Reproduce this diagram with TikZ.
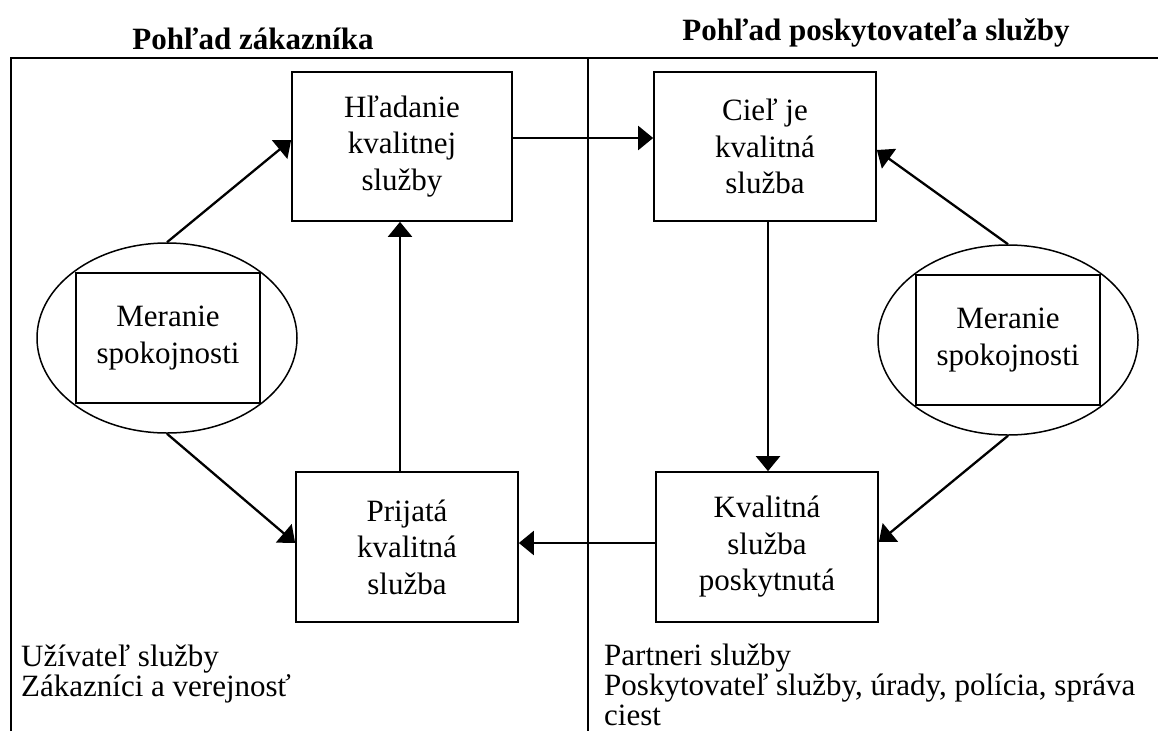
\documentclass[tikz,border=0pt]{standalone}
\usepackage{fontspec}
\setmainfont{Liberation Serif}
\usetikzlibrary{arrows.meta,shapes.geometric}
\newcommand\bxfont{\fontsize{31}{36.5}\selectfont}
\newcommand\ttlfont{\bfseries\fontsize{31}{36}\selectfont}
\newcommand\btfont{\fontsize{31}{30}\selectfont}
\begin{document}
\begin{tikzpicture}[x=1pt,y=-1pt,
 box/.style={draw,line width=1.7pt,minimum width=220pt,minimum height=149pt,align=center,font=\bxfont,inner sep=0pt},
 inbox/.style={draw,line width=1.7pt,minimum width=184pt,minimum height=130pt,align=center,font=\bxfont,inner sep=0pt},
 oval/.style={draw,ellipse,line width=1.5pt,minimum width=260pt,minimum height=190pt,inner sep=0pt},
 frame/.style={line width=2.7pt},
 arr/.style={line width=2.3pt,-{Triangle[length=15pt,width=24pt]}},
 title/.style={font=\ttlfont,anchor=base,inner sep=0pt},
 note/.style={font=\btfont,anchor=base west,align=left,inner sep=0pt}]
\useasboundingbox (0,0) rectangle (1158,731);
\fill[white] (0,0) rectangle (1158,731);
% titles
\node[title] (t1) at (253,49) {Pohľad zákazníka};
\node[title] (t2) at (876,40) {Pohľad poskytovateľa služby};
% frame
\coordinate (fbl) at (11,731);
\coordinate (ftl) at (11,58);
\coordinate (ftr) at (1158,58);
\coordinate (fmt) at (588,58);
\coordinate (fmb) at (588,731);
\draw[frame] (fbl) -- (ftl) -- (ftr);
\draw[frame] (fmt) -- (fmb);
% boxes
\node[box] (H) at (402,146.5) {Hľadanie\\kvalitnej\\služby};
\node[box,minimum width=222pt] (C) at (765,146.5) {Cieľ je\\kvalitná\\služba};
\node[box,minimum width=222pt,minimum height=150pt] (P) at (407,547) {Prijatá\\kvalitná\\služba};
\node[box,minimum width=222pt,minimum height=150pt] (K) at (767,547) {Kvalitná\\služba\\poskytnutá};
% ellipses
\node[oval] (LE) at (167,338) {};
\node[inbox] (LM) at (168,338) {Meranie\\spokojnosti};
\node[oval] (RE) at (1008,340) {};
\node[inbox] (RM) at (1008,340) {Meranie\\spokojnosti};
% arrows
\draw[arr] (LE.north) -- ([yshift=6.5pt]H.west);
\draw[arr] (LE.south) -- ([yshift=4pt]P.west);
\draw[arr] ([xshift=-7pt]P.north) -- ([xshift=-2pt]H.south);
\draw[arr] ([yshift=8.5pt]H.east) -- ([yshift=8.5pt]C.west);
\draw[arr] ([xshift=3pt]C.south) -- ([xshift=1pt]K.north);
\draw[arr] ([yshift=4pt]K.west) -- ([yshift=4pt]P.east);
\draw[arr] (RE.north) -- ([yshift=-3.5pt]C.east);
\draw[arr] (RE.south) -- ([yshift=5pt]K.east);
% notes (base anchor = last line baseline)
\node[note] (U) at (21,696) {Užívateľ služby\\Zákazníci a verejnosť};
\node[note] (S) at (604,725) {Partneri služby\\Poskytovateľ služby, úrady, polícia, správa\\ciest};
\end{tikzpicture}
\end{document}
